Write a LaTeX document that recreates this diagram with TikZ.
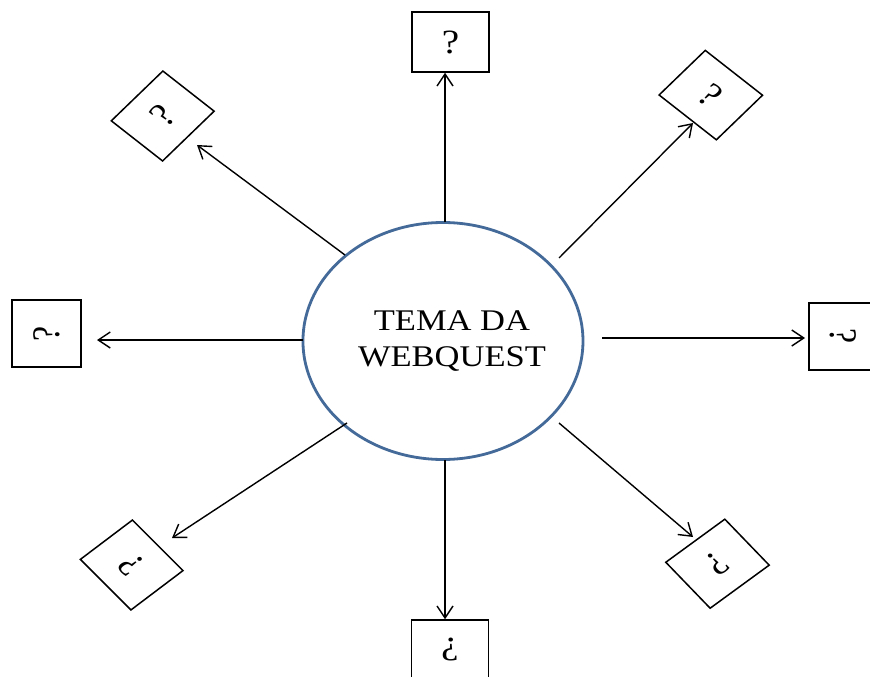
\documentclass[tikz,border=0pt]{standalone}
\usepackage{fontspec}
\setmainfont{Liberation Serif}
\usetikzlibrary{shapes.geometric,arrows.meta}
\definecolor{rimblue}{RGB}{68,106,153}
\begin{document}
\begin{tikzpicture}[x=1pt,y=1pt,
  qbox/.style={draw, line width=1.5pt, minimum width=67pt, minimum height=60pt,
    inner sep=0pt, font=\fontsize{34}{38}\selectfont, transform shape},
  arr/.style={-{Straight Barb[length=12pt,width=16pt]}, line width=1.4pt}]
\fill[white] (0,0) rectangle (870,-677);
\useasboundingbox (0,0) rectangle (870,-677);
\begin{scope}[xscale=1.15]
  \node[ellipse, draw=rimblue, line width=2.8pt, minimum width=243.5pt,
        minimum height=237pt, inner sep=0pt, transform shape] (c) at (385.2,-341) {};
  \node[font=\fontsize{30}{36}\selectfont, align=center, inner sep=0pt,
        transform shape] (lbl) at (393,-341.5) {TEMA DA\\WEBQUEST};
  \node[qbox] (t) at (391.7,-42) {?};
  \node[qbox, rotate=180] (b) at (391.3,-650) {?};
  \node[qbox, rotate=90] (l) at (40.4,-333.5) {?};
  \node[qbox, rotate=-90] (r) at (733.5,-336.5) {?};
  \node[qbox, rotate=48] (tl) at (141.5,-116) {?};
  \node[qbox, rotate=-42] (tr) at (618.1,-95.1) {?};
  \node[qbox, rotate=131] (bl) at (114.5,-565) {?};
  \node[qbox, rotate=220] (br) at (623.9,-563.7) {?};
\end{scope}
% connector ends
\coordinate (sT) at (445,-222);
\coordinate (sB) at (445,-460);
\coordinate (sL) at (303,-340);
\coordinate (eL) at (97,-340);
\coordinate (sR) at (602,-338);
\coordinate (eR) at (805,-338);
\coordinate (sTL) at (345,-255);
\coordinate (eTL) at (197,-145);
\coordinate (sTR) at (559,-258);
\coordinate (eTR) at (693,-123);
\coordinate (sBL) at (347,-423);
\coordinate (eBL) at (172,-538);
\coordinate (sBR) at (559,-423);
\coordinate (eBR) at (693,-537);
\draw[arr] (sT) -- (sT |- t.south);
\draw[arr] (sB) -- (sB |- b.south);
\draw[arr] (sL) -- (eL);
\draw[arr] (sR) -- (eR);
\draw[arr] (sTL) -- (eTL);
\draw[arr] (sTR) -- (eTR);
\draw[arr] (sBL) -- (eBL);
\draw[arr] (sBR) -- (eBR);
\end{tikzpicture}
\end{document}
